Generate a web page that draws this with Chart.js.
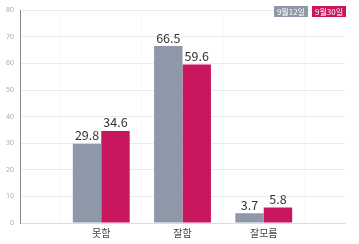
<!DOCTYPE html>
<html>
<head>
<meta charset="utf-8">
<script src="https://cdn.jsdelivr.net/npm/chart.js@4"></script>
<style>
  html, body { margin: 0; padding: 0; background: #fff; }
  #wrap { position: relative; width: 359px; height: 244px; }
  #legend { position: absolute; top: 6px; right: 13px; display: flex; gap: 4px; }
  #legend span {
    display: block; color: #fff; font: 8px "Noto Sans CJK KR", sans-serif;
    line-height: 11px; padding: 0 3px;
  }
</style>
</head>
<body>
<div id="wrap">
  <canvas id="surveyChart" width="359" height="244"></canvas>
  <div id="legend"></div>
</div>
<script>
// categories (blank slots at both ends keep the empty margins of the original)
const categories = ['못함', '잘함', '잘모름'];
const seriesNames = ['9월12일', '9월30일'];
const sep12 = [29.8, 66.5, 3.7];
const sep30 = [34.6, 59.6, 5.8];
const yTicks = [0, 10, 20, 30, 40, 50, 60, 70, 80];
const colors = ['#8e98a8', '#c8175e'];

const labels = [''].concat(categories, ['']);
const pad = arr => [null].concat(arr, [null]);

// legend boxes
const legendEl = document.getElementById('legend');
seriesNames.forEach(function (name, i) {
    const s = document.createElement('span');
    s.textContent = name;
    s.style.background = colors[i];
    legendEl.appendChild(s);
});

// value labels above bars
const valueLabels = {
    id: 'valueLabels',
    afterDatasetsDraw(chart) {
        const ctx = chart.ctx;
        ctx.save();
        ctx.font = '12.5px "Noto Sans CJK KR", sans-serif';
        ctx.fillStyle = '#333';
        ctx.textAlign = 'center';
        ctx.textBaseline = 'bottom';
        chart.data.datasets.forEach(function (ds, i) {
            chart.getDatasetMeta(i).data.forEach(function (bar, j) {
                if (ds.data[j] == null) return;
                ctx.fillText(ds.data[j].toFixed(1), bar.x, bar.y - 2);
            });
        });
        ctx.restore();
    }
};

new Chart(document.getElementById('surveyChart'), {
    type: 'bar',
    data: {
        labels: labels,
        datasets: [
            { label: seriesNames[0], data: pad(sep12), backgroundColor: colors[0] },
            { label: seriesNames[1], data: pad(sep30), backgroundColor: colors[1] }
        ]
    },
    options: {
        responsive: false,
        animation: false,
        layout: { padding: { top: 9, right: 14, left: 0, bottom: 1 } },
        categoryPercentage: 0.7,
        barPercentage: 1,
        plugins: { legend: { display: false }, tooltip: { enabled: false } },
        scales: {
            x: {
                offset: false,
                grid: { color: 'rgba(0,0,0,0.025)', drawTicks: false },
                border: { color: '#ddd' },
                ticks: { color: '#444', padding: 4, font: { size: 10, family: '"Noto Sans CJK KR", sans-serif' } }
            },
            y: {
                min: 0, max: 80,
                afterBuildTicks: function (axis) { axis.ticks = yTicks.map(v => ({ value: v })); },
                grid: { color: '#ebebeb', drawTicks: false },
                border: { color: '#888' },
                ticks: { color: '#aaa', padding: 6, font: { size: 7, family: '"Noto Sans", sans-serif' } }
            }
        }
    },
    plugins: [valueLabels]
});
</script>
</body>
</html>
